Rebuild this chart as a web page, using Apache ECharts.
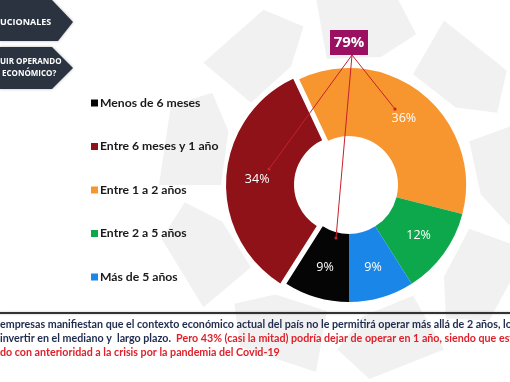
<!DOCTYPE html>
<html>
<head>
<meta charset="utf-8">
<script src="https://cdn.jsdelivr.net/npm/echarts@6/dist/echarts.min.js"></script>
<style>
html,body{margin:0;padding:0;background:#fff;}
#chart{width:510px;height:382px;}
</style>
</head>
<body>
<div id="chart"></div>
<script>
// ---- data ----
const categories = ['Menos de 6 meses', 'Entre 6 meses y 1 año', 'Entre 1 a 2 años', 'Entre 2 a 5 años', 'Más de 5 años'];
const values = [9, 34, 36, 12, 9];
const sliceColors = ['#050505', '#8E1218', '#F7952F', '#0DA84C', '#1A86E8'];
// drawing order clockwise from upper-left
const drawOrder = [2, 3, 4, 0, 1];
const explodedCategory = 'Entre 6 meses y 1 año';
const calloutText = '79%';
const bannerTexts = ['UCIONALES', 'UIR OPERANDO', 'ECONÓMICO?'];
const noteLine1 = 'empresas manifiestan que el contexto económico actual del país no le permitirá operar más allá de 2 años, lo';
const noteLine2a = 'invertir en el mediano y  largo plazo.  ';
const noteLine2b = 'Pero 43% (casi la mitad) podría dejar de operar en 1 año, siendo que este';
const noteLine3 = 'do con anterioridad a la crisis por la pandemia del Covid-19';

// ---- build ----
const total = values.reduce((a, b) => a + b, 0);
// first three drawn slices end at the 6 o'clock position
const before = drawOrder.slice(0, 3).reduce((s, i) => s + values[i], 0);
const startAngle = 90 - 180 + before / total * 360;

const seriesData = drawOrder.map(i => ({
  name: categories[i],
  value: values[i],
  selected: categories[i] === explodedCategory,
  itemStyle: { color: sliceColors[i] }
}));

const cx = 349, cy = 185;
// watermark arrow shapes
const wm = [];
for (let k = 0; k < 9; k++) {
  const a0 = k * 40 - 10;
  const pts = [[128, a0], [190, a0], [195, a0 + 24], [165, a0 + 34], [132, a0 + 24]];
  const p = pts.map(([r, a]) => {
    const t = a * Math.PI / 180;
    return [cx + r * Math.sin(t), cy - r * Math.cos(t)];
  });
  wm.push({ type: 'polygon', z: -10, shape: { points: p }, style: { fill: '#F1F1F1' } });
}

const RED = '#C8202A';
const chart = echarts.init(document.getElementById('chart'), null, { renderer: 'canvas' });
chart.setOption({
  backgroundColor: '#ffffff',
  animation: false,
  legend: {
    data: categories,
    orient: 'vertical',
    left: 86,
    top: 92,
    itemGap: 31.5,
    itemWidth: 7,
    itemHeight: 7,
    icon: 'rect',
    selectedMode: false,
    textStyle: { fontFamily: 'Lato', fontWeight: 'bold', fontSize: 12.2, color: '#1a1a1a', padding: [0, 0, 0, -3] }
  },
  color: drawOrder.map(i => sliceColors[i]),
  series: [{
    type: 'pie',
    center: [cx, cy],
    radius: [49, 117],
    startAngle: startAngle,
    clockwise: true,
    selectedMode: 'single',
    selectedOffset: 6,
    avoidLabelOverlap: false,
    label: {
      show: true,
      position: 'inside',
      formatter: '{c}%',
      color: '#ffffff',
      fontFamily: 'Open Sans',
      fontSize: 12.5
    },
    labelLine: { show: false },
    emphasis: { disabled: true },
    data: seriesData
  }],
  graphic: [
    ...wm,
    // banners
    { type: 'polygon', shape: { points: [[0, 0], [52, 0], [73, 22], [58, 41], [0, 41]] }, style: { fill: '#2B3340', shadowBlur: 3, shadowColor: 'rgba(0,0,0,0.3)' } },
    { type: 'polygon', shape: { points: [[0, 47], [52, 47], [73, 68], [52, 89], [0, 89]] }, style: { fill: '#2B3340', shadowBlur: 3, shadowColor: 'rgba(0,0,0,0.3)' } },
    { type: 'text', left: 0, top: 18, style: { text: bannerTexts[0], fill: '#fff', font: 'bold 9px "Open Sans"' } },
    { type: 'text', left: 0, top: 58, style: { text: bannerTexts[1], fill: '#fff', font: 'bold 8px "Open Sans"' } },
    { type: 'text', left: 2, top: 70, style: { text: bannerTexts[2], fill: '#fff', font: 'bold 8px "Open Sans"' } },
    // callout
    { type: 'group', z: 100, children: [
      { type: 'line', z: 100, shape: { x1: 352, y1: 55, x2: 395, y2: 109 }, style: { stroke: RED, lineWidth: 1 } },
      { type: 'line', z: 100, shape: { x1: 352, y1: 55, x2: 269, y2: 169 }, style: { stroke: RED, lineWidth: 1 } },
      { type: 'line', z: 100, shape: { x1: 352, y1: 55, x2: 336, y2: 238 }, style: { stroke: RED, lineWidth: 1 } },
      { type: 'circle', z: 100, shape: { cx: 395, cy: 109, r: 1.6 }, style: { fill: RED } },
      { type: 'circle', z: 100, shape: { cx: 269, cy: 169, r: 1.6 }, style: { fill: RED } },
      { type: 'circle', z: 100, shape: { cx: 336, cy: 238, r: 1.6 }, style: { fill: RED } },
      { type: 'rect', z: 101, shape: { x: 330, y: 30, width: 38, height: 25 }, style: { fill: '#9B1060' } },
      { type: 'text', z: 102, style: { x: 349, y: 43, text: calloutText, fill: '#fff', font: 'bold 15px "Open Sans"', align: 'center', verticalAlign: 'middle' } }
    ] },
    // bottom rule
    { type: 'rect', shape: { x: 0, y: 312, width: 510, height: 2 }, style: { fill: '#333333', shadowBlur: 2, shadowColor: 'rgba(0,0,0,0.3)' } },
    { type: 'text', style: { x: 0, y: 325, text: noteLine1, fill: '#1F2A4E', font: 'bold 10.7px Lato', verticalAlign: 'middle' } },
    { type: 'text', style: { x: 0, y: 339, verticalAlign: 'middle',
        text: '{a|' + noteLine2a + '}{b|' + noteLine2b + '}',
        rich: { a: { fill: '#1F2A4E', font: 'bold 10.7px Lato' }, b: { fill: '#E0202A', font: 'bold 10.7px Lato' } } } },
    { type: 'text', style: { x: 0, y: 353, text: noteLine3, fill: '#E0202A', font: 'bold 10.7px Lato', verticalAlign: 'middle' } }
  ]
});
</script>
</body>
</html>
